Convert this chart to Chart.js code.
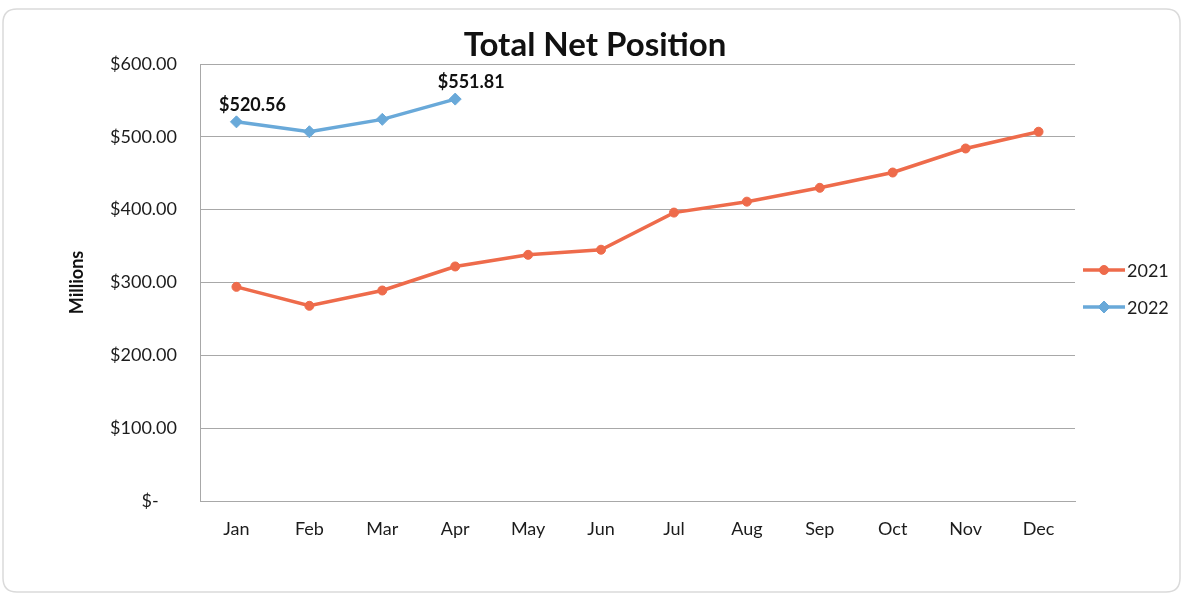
<!DOCTYPE html>
<html>
<head>
<meta charset="utf-8">
<title>Total Net Position</title>
<script src="https://cdn.jsdelivr.net/npm/chart.js"></script>
<style>
  html, body { margin: 0; padding: 0; background: #ffffff; }
  #wrap { width: 1183px; height: 594px; }
</style>
</head>
<body>
<div id="wrap"><canvas id="c" width="1183" height="594"></canvas></div>
<script>
// Monthly total net position, in millions of dollars
const months = ['Jan', 'Feb', 'Mar', 'Apr', 'May', 'Jun', 'Jul', 'Aug', 'Sep', 'Oct', 'Nov', 'Dec'];
const values2021 = [294, 268, 289, 322, 338, 345, 396, 411, 430, 451, 484, 507];
const values2022 = [520.56, 507, 524, 551.81];
const yTicks = [0, 100, 200, 300, 400, 500, 600];
const labelledPoints2022 = [0, 3];

const FONT = 'Lato, "Open Sans", "Liberation Sans", sans-serif';
const ORANGE = '#EE6B4B';
const BLUE = '#69A9D9';
const GRID = '#A8A8A8';
const TEXT = '#1c1c1c';

function money(v) {
  if (v === 0) return '$-    ';
  return '$' + v.toFixed(2);
}

// White page with a soft rounded frame
const framePlugin = {
  id: 'frame',
  beforeDraw(chart) {
    const ctx = chart.ctx;
    ctx.save();
    ctx.fillStyle = '#ffffff';
    ctx.fillRect(0, 0, chart.width, chart.height);
    ctx.strokeStyle = '#DADADA';
    ctx.lineWidth = 1.5;
    const x = 3, y = 9, w = chart.width - 6, h = chart.height - 11, r = 14;
    ctx.beginPath();
    ctx.moveTo(x + r, y);
    ctx.lineTo(x + w - r, y);
    ctx.quadraticCurveTo(x + w, y, x + w, y + r);
    ctx.lineTo(x + w, y + h - r);
    ctx.quadraticCurveTo(x + w, y + h, x + w - r, y + h);
    ctx.lineTo(x + r, y + h);
    ctx.quadraticCurveTo(x, y + h, x, y + h - r);
    ctx.lineTo(x, y + r);
    ctx.quadraticCurveTo(x, y, x + r, y);
    ctx.stroke();
    ctx.restore();
  }
};

// Title text above the plot
const titlePlugin = {
  id: 'titleText',
  afterDraw(chart) {
    const ctx = chart.ctx;
    ctx.save();
    ctx.font = 'bold 33px ' + FONT;
    ctx.fillStyle = '#111111';
    ctx.textAlign = 'center';
    ctx.textBaseline = 'middle';
    ctx.fillText('Total Net Position', 595, 45);
    ctx.restore();
  }
};

// Value labels for selected 2022 points
const valueLabelPlugin = {
  id: 'valueLabels',
  afterDatasetsDraw(chart) {
    const ctx = chart.ctx;
    const meta = chart.getDatasetMeta(1);
    ctx.save();
    ctx.font = 'bold 18px ' + FONT;
    ctx.fillStyle = '#111111';
    ctx.textAlign = 'center';
    ctx.textBaseline = 'middle';
    labelledPoints2022.forEach(i => {
      const el = meta.data[i];
      ctx.fillText(money(values2022[i]), el.x + 16, el.y - 17);
    });
    ctx.restore();
  }
};

// Legend on the right: line sample with marker, then series name
const sideLegendPlugin = {
  id: 'sideLegend',
  afterDraw(chart) {
    const ctx = chart.ctx;
    const x0 = 1083, x1 = 1125, rows = [270, 307];
    ctx.save();
    chart.data.datasets.forEach((ds, i) => {
      const y = rows[i];
      ctx.strokeStyle = ds.borderColor;
      ctx.lineWidth = 3.5;
      ctx.beginPath();
      ctx.moveTo(x0, y);
      ctx.lineTo(x1, y);
      ctx.stroke();
      ctx.fillStyle = ds.borderColor;
      ctx.lineWidth = 1;
      Chart.helpers.drawPoint(ctx, {
        pointStyle: ds.pointStyle,
        radius: ds.pointRadius,
        borderWidth: 1,
        rotation: 0
      }, (x0 + x1) / 2, y);
      ctx.font = '18px ' + FONT;
      ctx.fillStyle = TEXT;
      ctx.textAlign = 'left';
      ctx.textBaseline = 'middle';
      ctx.fillText(ds.label, x1 + 2, y + 1);
    });
    ctx.restore();
  }
};

new Chart(document.getElementById('c'), {
  type: 'line',
  data: {
    labels: months,
    datasets: [
      {
        label: '2021',
        data: values2021,
        borderColor: ORANGE,
        backgroundColor: ORANGE,
        borderWidth: 3.5,
        pointStyle: 'circle',
        pointRadius: 4.5,
        pointBorderWidth: 1,
        tension: 0
      },
      {
        label: '2022',
        data: values2022,
        borderColor: BLUE,
        backgroundColor: BLUE,
        borderWidth: 3.5,
        pointStyle: 'rectRot',
        pointRadius: 6,
        pointBorderWidth: 1,
        tension: 0
      }
    ]
  },
  options: {
    responsive: false,
    animation: false,
    devicePixelRatio: 1,
    layout: { padding: { left: 0, right: 108, top: 64, bottom: 0 } },
    plugins: {
      legend: { display: false },
      title: { display: false },
      tooltip: { enabled: false }
    },
    scales: {
      x: {
        offset: true,
        grid: { display: false, drawTicks: false },
        border: { display: true, color: GRID, width: 1 },
        ticks: { color: TEXT, font: { family: FONT, size: 18 }, padding: 17, maxRotation: 0 },
        afterFit(s) { s.height = 93; }
      },
      y: {
        min: 0,
        max: 600,
        afterBuildTicks(s) { s.ticks = yTicks.map(v => ({ value: v })); },
        grid: { color: GRID, drawTicks: false, lineWidth: 1 },
        border: { display: true, color: GRID, width: 1 },
        ticks: {
          color: TEXT,
          font: { family: FONT, size: 18 },
          padding: 23,
          callback: v => money(v)
        },
        title: {
          display: true,
          text: 'Millions',
          color: '#111111',
          font: { family: FONT, size: 18, weight: 'bold' },
          padding: { top: 66, bottom: 0 }
        },
        afterFit(s) { s.width = 200; }
      }
    }
  },
  plugins: [framePlugin, titlePlugin, valueLabelPlugin, sideLegendPlugin]
});
</script>
</body>
</html>
